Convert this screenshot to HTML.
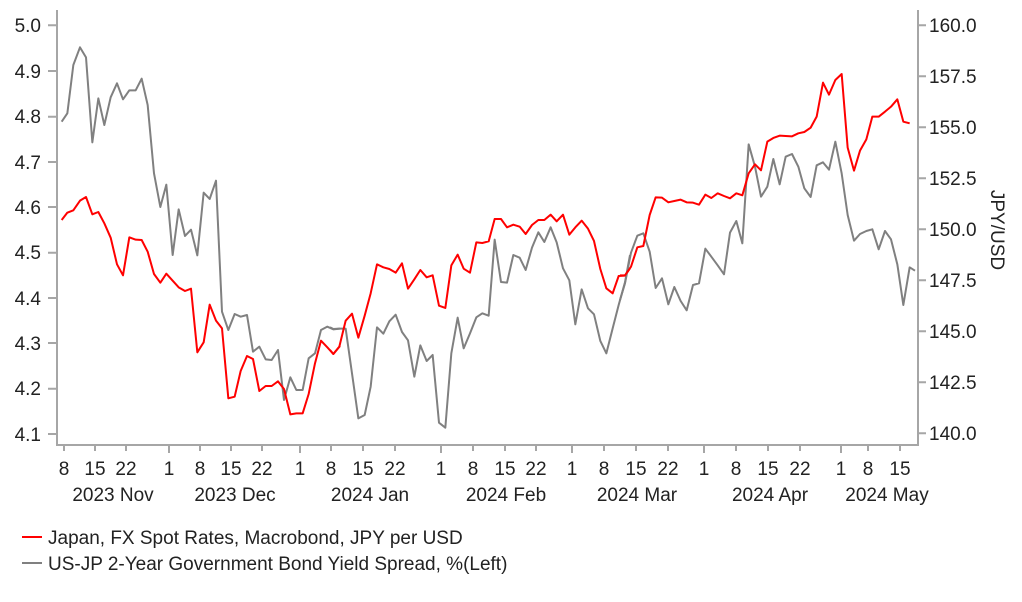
<!DOCTYPE html>
<html><head><meta charset="utf-8"><style>
body{margin:0;background:#fff;}
svg text{font-family:"Liberation Sans",Arial,sans-serif;font-size:19px;fill:#222;}
</style></head><body>
<svg width="1022" height="597" xmlns="http://www.w3.org/2000/svg">
<g stroke="#a6a6a6" stroke-width="2" fill="none">
<line x1="57" y1="10" x2="57" y2="446"/>
<line x1="918" y1="10" x2="918" y2="446"/>
<line x1="56" y1="445" x2="919" y2="445"/>
<path d="M48 25.3H57M48 71H57M48 116.7H57M48 162H57M48 207H57M48 252.7H57M48 298H57M48 343H57M48 388.7H57M48 434H57"/>
<path d="M918 25.3H926M918 76.3H926M918 127.3H926M918 178.3H926M918 229.3H926M918 280.3H926M918 331.3H926M918 382.3H926M918 433.3H926"/>
<path d="M64 445V451M95 445V451M126 445V451M169 445V453M200 445V451M231 445V451M262 445V451M300 445V453M331 445V451M363 445V451M395 445V451M441 445V453M473 445V451M505 445V451M536 445V451M572 445V453M604 445V451M636 445V451M668 445V451M704 445V453M736 445V451M768 445V451M800 445V451M841 445V453M868 445V451M900 445V451"/>
</g>
<g text-anchor="end">
<text x="41" y="32">5.0</text><text x="41" y="78">4.9</text><text x="41" y="123">4.8</text><text x="41" y="169">4.7</text><text x="41" y="214">4.6</text><text x="41" y="259">4.5</text><text x="41" y="305">4.4</text><text x="41" y="350">4.3</text><text x="41" y="395">4.2</text><text x="41" y="441">4.1</text>
</g>
<g>
<text x="929" y="32">160.0</text><text x="929" y="83">157.5</text><text x="929" y="134">155.0</text><text x="929" y="185">152.5</text><text x="929" y="236">150.0</text><text x="929" y="287">147.5</text><text x="929" y="338">145.0</text><text x="929" y="389">142.5</text><text x="929" y="440">140.0</text>
</g>
<text transform="translate(991,230) rotate(90)" text-anchor="middle">JPY/USD</text>
<g text-anchor="middle">
<text x="64" y="475">8</text><text x="95" y="475">15</text><text x="126" y="475">22</text><text x="169" y="475">1</text><text x="200" y="475">8</text><text x="231" y="475">15</text><text x="262" y="475">22</text><text x="300" y="475">1</text><text x="331" y="475">8</text><text x="363" y="475">15</text><text x="395" y="475">22</text><text x="441" y="475">1</text><text x="473" y="475">8</text><text x="505" y="475">15</text><text x="536" y="475">22</text><text x="572" y="475">1</text><text x="604" y="475">8</text><text x="636" y="475">15</text><text x="668" y="475">22</text><text x="704" y="475">1</text><text x="736" y="475">8</text><text x="768" y="475">15</text><text x="800" y="475">22</text><text x="841" y="475">1</text><text x="868" y="475">8</text><text x="900" y="475">15</text>
<text x="113" y="501">2023 Nov</text><text x="235" y="501">2023 Dec</text><text x="370" y="501">2024 Jan</text><text x="506" y="501">2024 Feb</text><text x="637" y="501">2024 Mar</text><text x="770" y="501">2024 Apr</text><text x="887" y="501">2024 May</text>
</g>
<g fill="none" stroke-width="2" stroke-linejoin="round">
<g transform="translate(40,10) scale(0.33333)">
<polyline vector-effect="non-scaling-stroke" stroke="#808080" points="65,335 82,310 100,165 120,112 138,142 157,397 175,265 193,345 212,262 231,220 249,268 268,241 287,241 305,206 323,285 342,490 361,591 379,524 398,735 416,598 435,678 453,659 472,736 491,548 509,567 528,512 546,905 565,960 584,912 602,920 621,915 639,1025 658,1010 677,1048 695,1050 714,1020 732,1170 751,1102 769,1140 788,1140 806,1045 825,1030 843,960 862,950 880,958 900,956"/>
<polyline vector-effect="non-scaling-stroke" stroke="#ff0000" points="65,630 82,608 100,601 120,572 138,561 157,613 175,606 193,640 212,683 231,763 249,796 268,682 287,689 305,690 323,725 342,792 361,818 379,791 398,812 416,832 435,843 453,836 472,1027 491,997 509,884 528,932 546,955 565,1165 584,1160 602,1083 621,1038 639,1047 658,1143 677,1128 695,1128 714,1114 732,1137 751,1213 769,1210 788,1210 806,1152 825,1060 843,992 862,1012 880,1032 900,1008"/>
</g>
<g transform="translate(330,10) scale(0.33333)">
<polyline vector-effect="non-scaling-stroke" stroke="#808080" points="0,952 10,957 28,956 47,956 66,1090 85,1225 104,1215 122,1130 141,952 160,971 178,934 197,914 216,966 234,991 253,1100 271,1006 290,1053 308,1035 327,1238 346,1253 364,1030 383,923 401,1015 420,970 439,922 457,910 476,917 494,689 513,816 531,818 550,735 569,743 587,780 606,713 625,667 643,696 662,652 680,697 699,775 718,811 736,943 755,838 774,895 792,913 811,993 829,1030 848,955 866,885 885,817 900,735"/>
<polyline vector-effect="non-scaling-stroke" stroke="#ff0000" points="0,1020 10,1032 28,1010 47,932 66,911 85,983 104,917 122,850 141,763 160,772 178,777 197,788 216,760 234,836 253,808 271,780 290,802 308,796 327,887 346,894 364,766 383,734 401,776 420,788 439,697 457,699 476,694 494,627 513,627 531,652 550,644 569,650 587,672 606,645 625,630 643,630 662,614 680,634 699,614 718,674 736,652 755,632 774,656 792,693 811,777 829,835 848,850 866,798 885,797 900,775"/>
</g>
<g transform="translate(620,10) scale(0.33333)">
<polyline vector-effect="non-scaling-stroke" stroke="#808080" points="0,870 15,820 33,728 52,677 70,670 89,725 107,834 126,805 145,883 163,831 182,873 200,901 219,825 237,820 256,716 274,740 293,766 312,793 330,668 349,633 367,700 386,403 405,470 423,560 442,530 460,447 479,523 497,440 516,432 535,470 553,535 572,561 590,466 609,457 627,479 646,395 665,490 683,615 702,692 720,672 739,663 757,658 776,718 795,663 813,688 832,763 850,885 869,772 885,782"/>
<polyline vector-effect="non-scaling-stroke" stroke="#ff0000" points="0,796 15,796 33,770 52,712 70,708 89,615 107,562 126,563 145,577 163,573 182,569 200,577 219,578 237,584 256,554 274,564 293,550 312,558 330,565 349,550 367,556 386,490 405,463 423,481 442,395 460,384 479,377 497,378 516,379 535,370 553,366 572,353 590,320 609,218 627,254 646,210 665,192 683,413 702,482 720,422 739,388 757,320 776,320 795,305 813,290 832,268 850,335 869,340"/>
</g>
</g>
<line x1="22" y1="537" x2="42" y2="537" stroke="#ff0000" stroke-width="2"/>
<text x="48" y="544">Japan, FX Spot Rates, Macrobond, JPY per USD</text>
<line x1="22" y1="563" x2="42" y2="563" stroke="#808080" stroke-width="2"/>
<text x="48" y="570">US-JP 2-Year Government Bond Yield Spread, %(Left)</text>
</svg>
</body></html>
